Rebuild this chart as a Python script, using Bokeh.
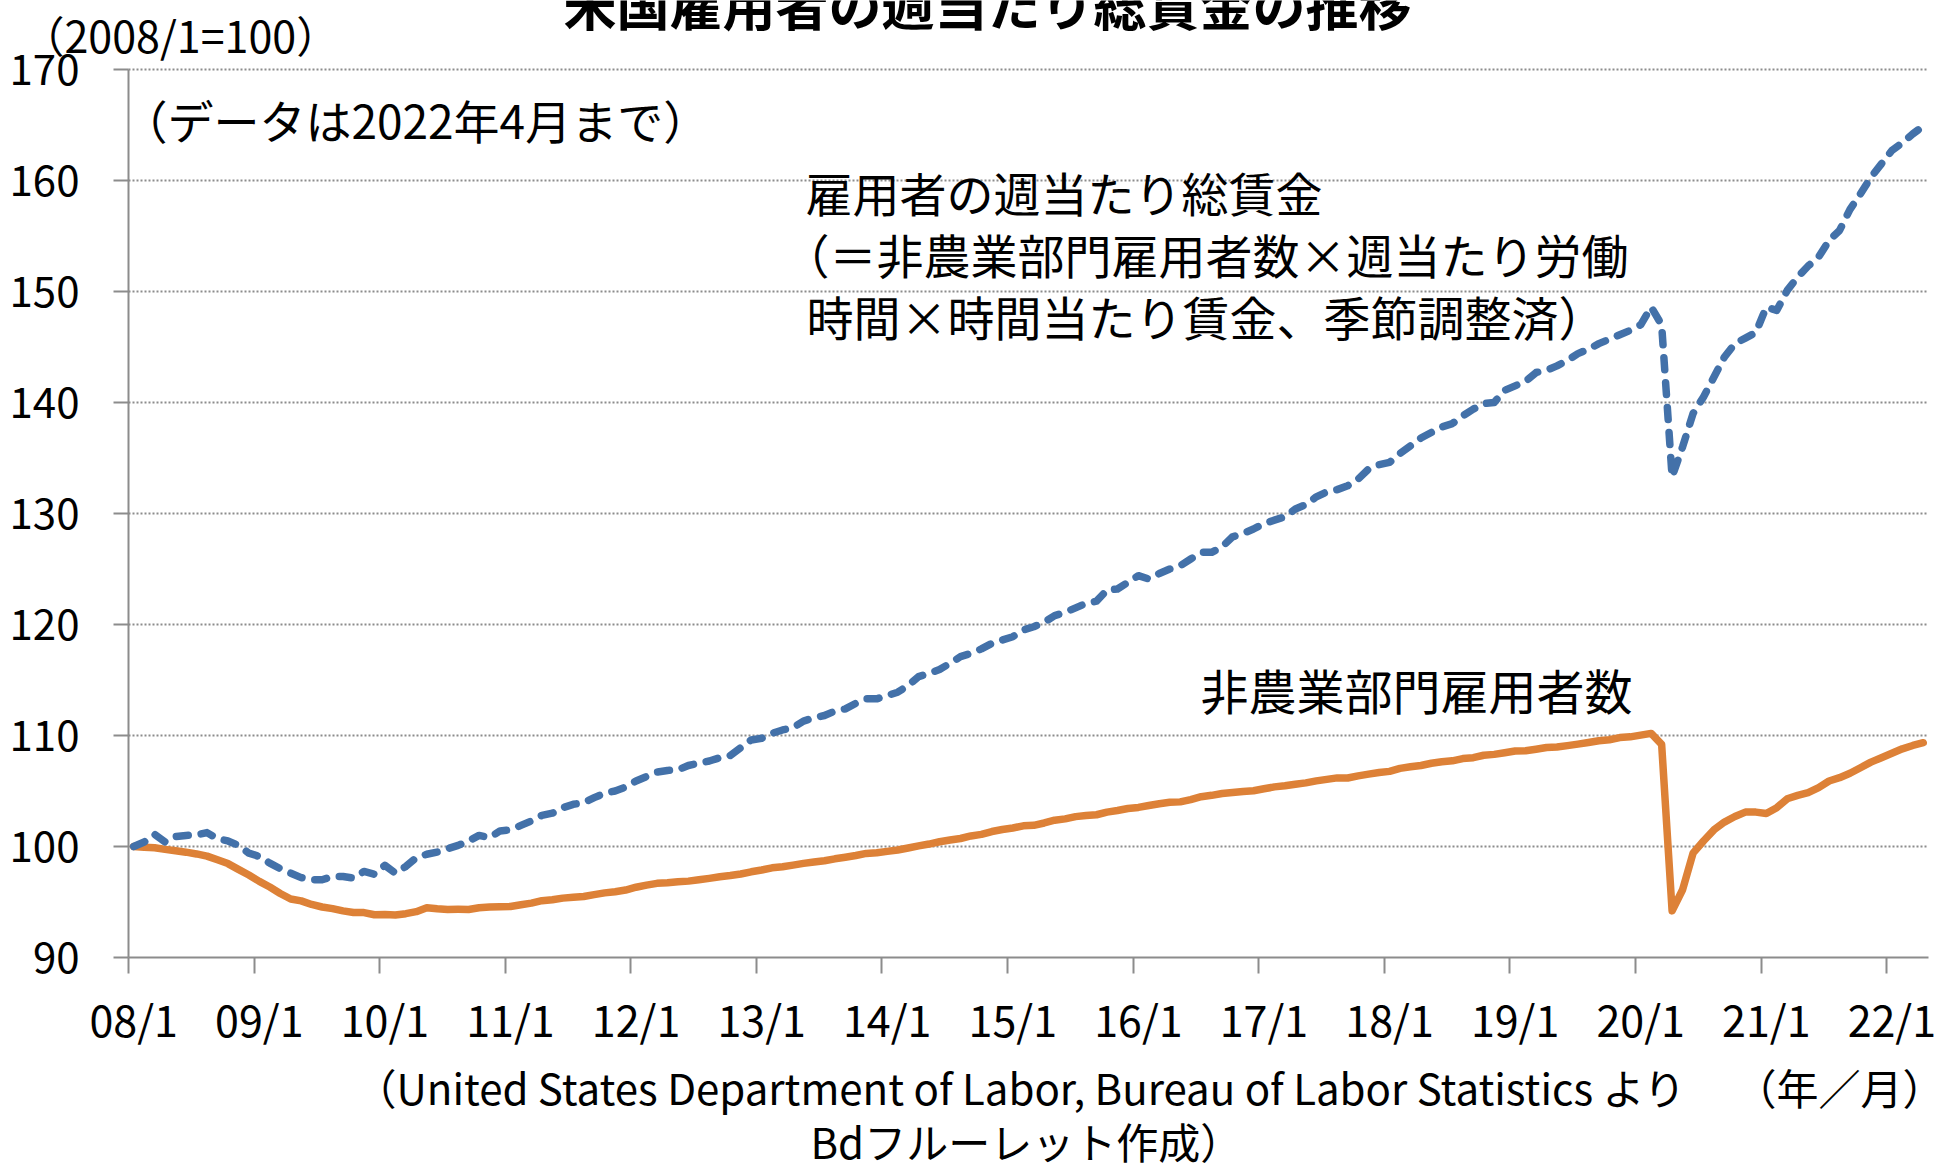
from bokeh.plotting import figure
from bokeh.models import Range1d, FixedTicker, Label, LinearAxis
from bokeh.embed import file_html
from bokeh.resources import INLINE

# ---------------- data ----------------
months = list(range(172))  # 2008/1 .. 2022/4
tick_pos = [0, 12, 24, 36, 48, 60, 72, 84, 96, 108, 120, 132, 144, 156, 168]
tick_labels = ["08/1", "09/1", "10/1", "11/1", "12/1", "13/1", "14/1", "15/1",
               "16/1", "17/1", "18/1", "19/1", "20/1", "21/1", "22/1"]
y_ticks = [90, 100, 110, 120, 130, 140, 150, 160, 170]

total_wages = [
    100.0, 100.4, 101.1, 100.4, 100.9, 101.0, 101.05, 101.25, 100.7, 100.5, 100.1, 99.4,
    99.1, 98.5, 98.0, 97.6, 97.2, 97.0, 97.0, 97.3, 97.3, 97.15, 97.75, 97.5,
    98.3, 97.6, 98.2, 99.0, 99.3, 99.5, 99.8, 100.1, 100.5, 101.0, 100.8, 101.4,
    101.5, 101.9, 102.3, 102.8, 103.0, 103.5, 103.8, 103.95, 104.4, 104.8, 105.0, 105.35,
    105.9, 106.3, 106.7, 106.85, 106.9, 107.3, 107.5, 107.7, 108.0, 108.2, 108.9, 109.6,
    109.75, 110.2, 110.5, 110.7, 111.3, 111.6, 111.8, 112.2, 112.4, 112.9, 113.3, 113.3,
    113.6, 113.9, 114.5, 115.3, 115.6, 115.95, 116.5, 117.1, 117.4, 117.8, 118.3, 118.6,
    118.9, 119.5, 119.8, 120.2, 120.8, 121.1, 121.5, 121.9, 122.1, 123.1, 123.2, 123.8,
    124.4, 124.1, 124.6, 125.0, 125.3, 125.9, 126.5, 126.5, 127.0, 127.9, 128.2, 128.6,
    129.1, 129.4, 129.7, 130.4, 130.8, 131.5, 131.95, 132.15, 132.5, 133.1, 134.0, 134.4,
    134.6, 135.4, 136.1, 136.8, 137.3, 137.8, 138.1, 138.8, 139.4, 139.9, 140.0, 141.1,
    141.5, 141.9, 142.7, 142.9, 143.3, 143.8, 144.4, 144.8, 145.3, 145.7, 146.1, 146.5,
    147.0, 148.6, 147.0, 133.3, 136.0, 139.0, 140.5, 142.3, 144.1, 145.3, 145.8, 146.3,
    148.6, 148.3, 150.1, 151.3, 152.3, 153.1, 154.6, 155.5, 157.4, 158.8, 160.3, 161.5,
    162.7, 163.4, 164.2, 164.9,
]

payrolls = [
    100.0, 99.94, 99.89, 99.74, 99.61, 99.49, 99.33, 99.13, 98.80, 98.46, 97.94, 97.43,
    96.86, 96.35, 95.77, 95.27, 95.10, 94.78, 94.55, 94.40, 94.20, 94.05, 94.05, 93.85,
    93.87, 93.83, 93.95, 94.13, 94.48, 94.39, 94.33, 94.34, 94.33, 94.48, 94.55, 94.58,
    94.60, 94.75, 94.90, 95.12, 95.20, 95.35, 95.42, 95.50, 95.66, 95.82, 95.93, 96.08,
    96.33, 96.52, 96.68, 96.73, 96.82, 96.88, 97.00, 97.13, 97.27, 97.38, 97.52, 97.72,
    97.88, 98.08, 98.18, 98.32, 98.48, 98.61, 98.72, 98.89, 99.03, 99.19, 99.38, 99.43,
    99.56, 99.68, 99.86, 100.05, 100.22, 100.43, 100.58, 100.72, 100.95, 101.09, 101.35, 101.53,
    101.67, 101.86, 101.91, 102.12, 102.37, 102.49, 102.69, 102.79, 102.86, 103.10, 103.24, 103.42,
    103.52, 103.69, 103.85, 103.98, 104.02, 104.23, 104.49, 104.61, 104.77, 104.86, 104.96, 105.02,
    105.20, 105.37, 105.47, 105.61, 105.73, 105.91, 106.05, 106.18, 106.17, 106.36, 106.52, 106.66,
    106.77, 107.04, 107.18, 107.30, 107.50, 107.64, 107.72, 107.92, 108.00, 108.22, 108.30, 108.45,
    108.60, 108.62, 108.76, 108.92, 108.96, 109.09, 109.22, 109.37, 109.52, 109.62, 109.81, 109.88,
    110.03, 110.19, 109.20, 94.20, 96.10, 99.40, 100.50, 101.50, 102.20, 102.70, 103.10, 103.10,
    102.97, 103.50, 104.30, 104.60, 104.85, 105.30, 105.90, 106.20, 106.60, 107.10, 107.60, 108.00,
    108.40, 108.80, 109.10, 109.35,
]

title_text = "米国雇用者の週当たり総賃金の推移"
unit_text = "（2008/1=100）"
note_text = "（データは2022年4月まで）"
wage_lines = ["雇用者の週当たり総賃金",
              "（＝非農業部門雇用者数×週当たり労働",
              "時間×時間当たり賃金、季節調整済）"]
payroll_text = "非農業部門雇用者数"
source_line1 = "（United States Department of Labor, Bureau of Labor Statistics より"
source_unit = "（年／月）"
source_line2 = "Bdフルーレット作成）"

# ---------------- layout (pixels) ----------------
W, H = 1946, 1172
PX_L, PX_R = 128, 1928      # plot-area left / right edge
PX_T, PX_B = 69, 957        # plot-area top / bottom edge
X0, X1 = -0.5, 171.5
Y0, Y1 = 90, 170
XS = (X1 - X0) / (PX_R - PX_L)
YS = (Y1 - Y0) / (PX_B - PX_T)
FONT = "Noto Sans CJK JP"
GRAY = "#8c8c8c"
BLUE = "#4371a9"
ORANGE = "#dd8137"


def dx(px):
    return X0 + (px - PX_L) * XS


def dy(py):
    return Y1 - (py - PX_T) * YS


p = figure(width=W, height=H,
           x_range=Range1d(dx(0), dx(W)), y_range=Range1d(dy(H), dy(0)),
           x_axis_location=None, y_axis_location=None,
           output_backend="svg", toolbar_location=None,
           min_border=0, min_border_left=0, min_border_right=0,
           min_border_top=0, min_border_bottom=0)
p.outline_line_color = None
p.background_fill_color = "white"
p.border_fill_color = "white"
p.grid.visible = False

# horizontal dotted grid lines
p.segment(x0=X0, x1=X1, y0=y_ticks[1:], y1=y_ticks[1:], line_color=GRAY,
          line_width=2, line_dash="2 2")

yax = LinearAxis(fixed_location=X0, bounds=(Y0, Y1),
                 ticker=FixedTicker(ticks=y_ticks))
yax.axis_line_color = GRAY
yax.axis_line_width = 2
yax.major_tick_line_color = GRAY
yax.major_tick_line_width = 2
yax.major_tick_out = 15
yax.major_tick_in = 0
yax.minor_tick_out = 0
yax.minor_tick_in = 0
yax.major_label_standoff = 34
yax.major_label_text_font = FONT
yax.major_label_text_font_size = "42px"
yax.major_label_text_color = "black"
p.add_layout(yax, "left")

xax = LinearAxis(fixed_location=Y0, bounds=(X0, X1),
                 ticker=FixedTicker(ticks=tick_pos,
                                    minor_ticks=[t - 0.5 for t in tick_pos]))
xax.major_label_overrides = {t: s for t, s in zip(tick_pos, tick_labels)}
xax.axis_line_color = GRAY
xax.axis_line_width = 2
xax.major_tick_out = 0
xax.major_tick_in = 0
xax.minor_tick_line_color = GRAY
xax.minor_tick_line_width = 2
xax.minor_tick_out = 16
xax.minor_tick_in = 0
xax.major_label_standoff = 13
xax.major_label_text_font = FONT
xax.major_label_text_font_size = "43px"
xax.major_label_text_color = "black"
p.add_layout(xax, "below")

p.line(months, payrolls, line_color=ORANGE, line_width=7.5, line_join="round", line_cap="round")
p.line(months, total_wages, line_color=BLUE, line_width=7.5, line_dash="12 13",
       line_cap="round", line_join="round")


def add_text(txt, px, py, size, align="left", bold=False):
    p.add_layout(Label(x=dx(px), y=dy(py), text=txt, text_font=FONT,
                       text_font_size=f"{size}px", text_align=align,
                       text_baseline="alphabetic", text_color="black",
                       text_font_style="bold" if bold else "normal"))


add_text(title_text, 987, 2, 53, align="center", bold=True)
add_text(unit_text, 21, 33, 43)
add_text(note_text, 121, 118, 46)
add_text(wage_lines[0], 805, 191, 47)
add_text(wage_lines[1], 782, 253, 47)
add_text(wage_lines[2], 806, 315, 47)
add_text(payroll_text, 1200, 688, 48)
add_text(source_line1, 354, 1086, 42)
add_text(source_unit, 1734, 1086, 42)
add_text(source_line2, 810, 1140, 42)

open("out.html", "w").write(file_html(p, INLINE))
